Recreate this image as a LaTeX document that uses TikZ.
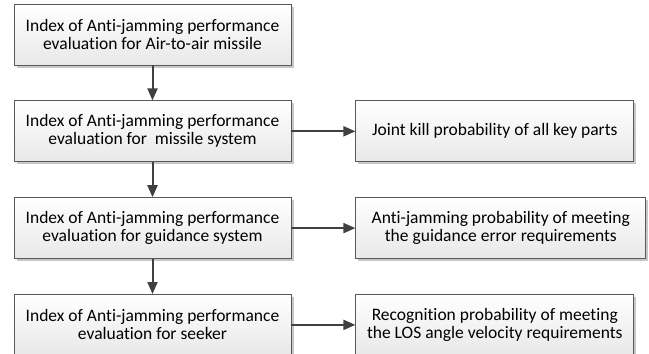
\documentclass[tikz,border=0pt]{standalone}
\usepackage{fontspec}
\setmainfont{Carlito}[Ligatures=NoCommon]
\usetikzlibrary{positioning,shadows,arrows.meta}

\begin{document}
\begin{tikzpicture}[x=1pt,y=1pt,
  box/.style={draw=black!65, line width=0.8pt, top color=white, bottom color=black!9,
    drop shadow={shadow xshift=2.5pt, shadow yshift=-2.5pt, fill=black!22, opacity=1},
    minimum width=277pt, minimum height=61pt, align=center, inner sep=0pt,
    font=\fontsize{17.5}{18}\selectfont},
  link/.style={-{Triangle[length=12pt,width=10pt]}, line width=2pt, draw=black!75},
  node distance=35pt and 64pt]
\useasboundingbox (0,0) rectangle (649,-354);
\node[box] (air) at (152.5,-34.5) {Index of Anti-jamming performance\\evaluation for Air-to-air missile};
\node[box, below=of air] (missile) {Index of Anti-jamming performance\\evaluation for ~missile system};
\node[box, below=of missile] (guidance) {Index of Anti-jamming performance\\evaluation for guidance system};
\node[box, below=of guidance] (seeker) {Index of Anti-jamming performance\\evaluation for seeker};
\node[box, minimum width=278pt, right=of missile] (kill) {Joint kill probability of all key parts};
\node[box, minimum width=290pt, right=of guidance] (guiderr) {Anti-jamming probability of meeting\\the guidance error requirements};
\node[box, minimum width=278pt, right=of seeker] (los) {Recognition probability of meeting\\the LOS angle velocity requirements};
\draw[link] (air) -- (missile);
\draw[link] (missile) -- (guidance);
\draw[link] (guidance) -- (seeker);
\draw[link] (missile) -- (kill);
\draw[link] (guidance) -- (guiderr);
\draw[link] (seeker) -- (los);
\end{tikzpicture}
\end{document}
